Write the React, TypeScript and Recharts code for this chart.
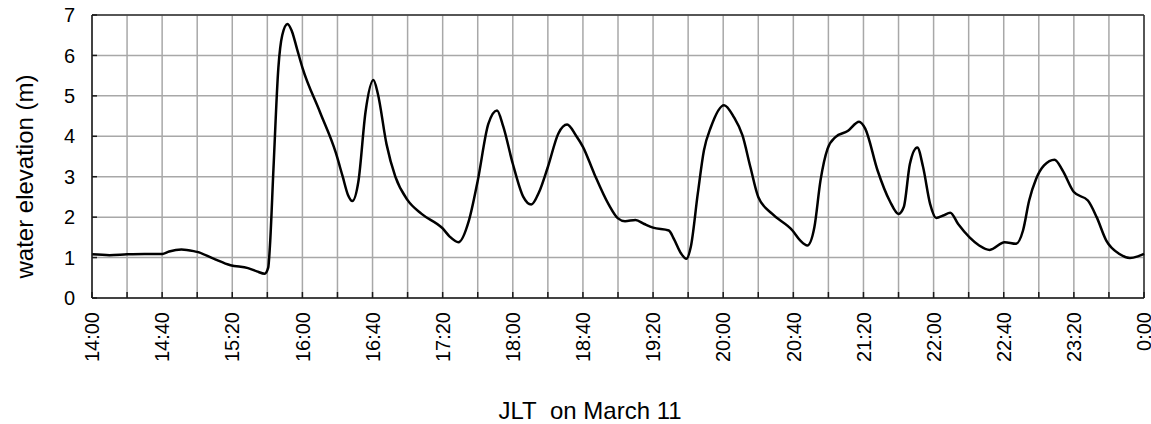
import React from 'react';
import {
  LineChart,
  Line,
  XAxis,
  YAxis,
  CartesianGrid,
  ReferenceLine,
} from 'recharts';

// Minutes elapsed since 14:00 (JLT) on March 11
const minutes = [
  0, 10, 20, 30, 40, 44, 51, 58, 60, 69, 79, 89, 94, 98.5, 100.5, 101.5, 103.5, 106.3,
  108.5, 111.5, 114, 117, 120, 130, 139, 143, 146, 148.5, 152, 156, 160.5, 163, 168,
  173, 180, 188, 200, 204, 209, 215, 220, 226, 231, 234.5, 240, 246, 250.5, 255, 260,
  266, 271, 276, 280, 286.5, 294.5, 300, 304, 310, 315, 320, 329, 332, 336, 339,
  341.5, 345.5, 349, 353, 360.5, 366, 371, 375.5, 380, 388, 399.5, 404, 408, 412,
  415.5, 419.5, 424, 431, 437.5, 441, 448, 455, 460, 463, 466.5, 470.7, 474, 478,
  481.5, 485.5, 489.5, 494, 500.5, 506, 512, 520.5, 527, 531, 534.5, 538.5, 543,
  549, 553.5, 560, 568, 573, 578.5, 586, 592, 596.5, 600,
];

// Water elevation in metres at each of the times above
const elevation = [
  1.08, 1.06, 1.08, 1.09, 1.09, 1.15, 1.2, 1.16, 1.14, 0.98, 0.81, 0.74, 0.66, 0.6,
  0.75, 1.3, 3.2, 5.7, 6.5, 6.78, 6.6, 6.15, 5.7, 4.6, 3.6, 3.0, 2.55, 2.4, 2.9, 4.6,
  5.39, 5.06, 3.8, 3.0, 2.42, 2.08, 1.72, 1.52, 1.38, 1.92, 2.9, 4.3, 4.64, 4.25,
  3.32, 2.5, 2.31, 2.62, 3.24, 4.07, 4.29, 4.02, 3.74, 3.07, 2.33, 1.97, 1.9, 1.93,
  1.83, 1.74, 1.67, 1.45, 1.1, 0.97, 1.26, 2.58, 3.65, 4.23, 4.77, 4.48, 4.02, 3.24,
  2.5, 2.08, 1.67, 1.42, 1.3, 1.75, 2.91, 3.69, 3.98, 4.13, 4.36, 4.19, 3.16, 2.4,
  2.08, 2.25, 3.32, 3.72, 3.24, 2.33, 1.98, 2.04, 2.11, 1.83, 1.5, 1.3, 1.19, 1.38,
  1.34, 1.67, 2.41, 2.95, 3.28, 3.42, 3.16, 2.62, 2.41, 2.0, 1.42, 1.09, 0.99, 1.03,
  1.09,
];

// Gridline / tick positions every 20 minutes, labelled every 40 minutes
const tickMinutes = [
  0, 20, 40, 60, 80, 100, 120, 140, 160, 180, 200, 220, 240, 260, 280, 300, 320,
  340, 360, 380, 400, 420, 440, 460, 480, 500, 520, 540, 560, 580, 600,
];
const tickLabels = [
  '14:00', '', '14:40', '', '15:20', '', '16:00', '', '16:40', '', '17:20', '',
  '18:00', '', '18:40', '', '19:20', '', '20:00', '', '20:40', '', '21:20', '',
  '22:00', '', '22:40', '', '23:20', '', '0:00',
];

const elevationTicks = [0, 1, 2, 3, 4, 5, 6, 7];

const data = minutes.map((t, i) => ({ t, h: elevation[i] }));

const FONT = '"Liberation Sans", Arial, sans-serif';
const AXIS = '#1a1a1a';

const TimeTick = (props: any) => {
  const { x, y, payload } = props;
  const idx = tickMinutes.indexOf(payload.value);
  const label = idx >= 0 ? tickLabels[idx] : '';
  if (!label) return null;
  return (
    <text
      x={x}
      y={y}
      dy="0.36em"
      textAnchor="end"
      transform={`rotate(-90 ${x} ${y})`}
      fontFamily={FONT}
      fontSize={20}
      fill="#000"
    >
      {label}
    </text>
  );
};

const ElevationTick = (props: any) => {
  const { x, y, payload } = props;
  return (
    <text
      x={x}
      y={y}
      dy="0.36em"
      textAnchor="end"
      fontFamily={FONT}
      fontSize={20}
      fill="#000"
    >
      {payload.value}
    </text>
  );
};

const XTitle = (props: any) => {
  const vb = props.viewBox || {};
  const cx = vb.x + vb.width / 2 - 28;
  const by = vb.y + vb.height - 5;
  return (
    <text x={cx} y={by} textAnchor="middle" fontFamily={FONT} fontSize={24} fill="#000">
      JLT&#160; on March 11
    </text>
  );
};

const YTitle = (props: any) => {
  const vb = props.viewBox || {};
  const bx = vb.x + 33;
  const cy = vb.y + vb.height / 2 + 20;
  return (
    <text
      x={bx}
      y={cy}
      textAnchor="middle"
      transform={`rotate(-90 ${bx} ${cy})`}
      fontFamily={FONT}
      fontSize={24}
      fill="#000"
    >
      water elevation (m)
    </text>
  );
};

export default function App() {
  return (
    <div
      style={{
        position: 'absolute',
        left: 0,
        top: 0,
        width: 1151,
        height: 424,
        background: '#fff',
      }}
    >
      <LineChart
        width={1151}
        height={424}
        data={data}
        margin={{ top: 15, right: 7, bottom: 0, left: 0 }}
      >
        <CartesianGrid stroke="#a8a8a8" strokeWidth={1.5} />
        <XAxis
          dataKey="t"
          type="number"
          domain={[0, 600]}
          ticks={tickMinutes}
          interval={0}
          height={126}
          axisLine={{ stroke: AXIS, strokeWidth: 1.5 }}
          tickLine={{ stroke: AXIS, strokeWidth: 1.5 }}
          tickSize={-6}
          tickMargin={20}
          tick={<TimeTick />}
          label={<XTitle />}
        />
        <YAxis
          type="number"
          domain={[0, 7]}
          ticks={elevationTicks}
          interval={0}
          width={92}
          axisLine={{ stroke: AXIS, strokeWidth: 1.5 }}
          tickLine={{ stroke: AXIS, strokeWidth: 1.5 }}
          tickSize={-5}
          tickMargin={22}
          tick={<ElevationTick />}
          label={<YTitle />}
        />
        <ReferenceLine y={7} stroke="#333" strokeWidth={1.5} />
        <ReferenceLine x={600} stroke="#333" strokeWidth={1.5} />
        <Line
          type="monotone"
          dataKey="h"
          stroke="#000"
          strokeWidth={2.5}
          dot={false}
          activeDot={false}
          isAnimationActive={false}
        />
      </LineChart>
    </div>
  );
}
